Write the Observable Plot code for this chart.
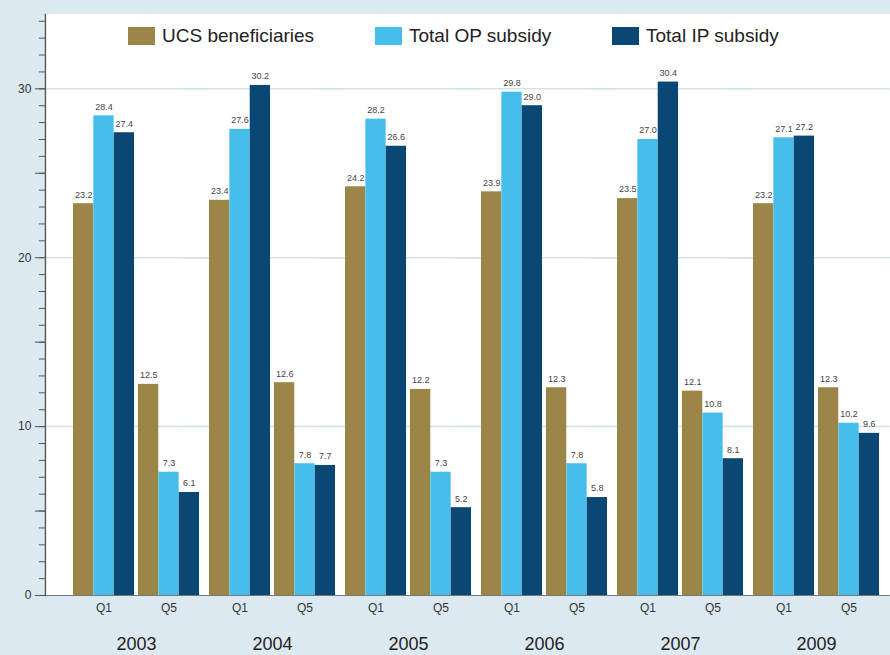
<!DOCTYPE html>
<html>
<head>
<meta charset="utf-8">
<script src="https://cdn.jsdelivr.net/npm/d3@7"></script>
<script src="https://cdn.jsdelivr.net/npm/@observablehq/plot@0.6"></script>
<style>
  html, body { margin: 0; padding: 0; background: #dde9f1; }
  #wrap { position: relative; width: 890px; height: 655px; font-family: "Liberation Sans", Arial, sans-serif; }
  #plotbg { position: absolute; left: 44px; top: 14px; width: 846px; height: 581px; background: #fff; z-index: 0; }
  #wrap svg { position: relative; z-index: 1; }
  .leg { position: absolute; top: 25px; display: flex; align-items: center; font-size: 19px; color: #222; z-index: 2; }
  .sw { width: 27px; height: 18px; margin-right: 7px; }
</style>
</head>
<body>
<div id="wrap"><div id="plotbg"></div></div>
<script>
const years = ["2003", "2004", "2005", "2006", "2007", "2009"];
const quintiles = ["Q1", "Q5"];
const seriesNames = ["UCS beneficiaries", "Total OP subsidy", "Total IP subsidy"];
const seriesColors = ["#9c8647", "#47bde9", "#0b4775"];
const ucsQ1 = [23.2, 23.4, 24.2, 23.9, 23.5, 23.2];
const opQ1  = [28.4, 27.6, 28.2, 29.8, 27.0, 27.1];
const ipQ1  = [27.4, 30.2, 26.6, 29.0, 30.4, 27.2];
const ucsQ5 = [12.5, 12.6, 12.2, 12.3, 12.1, 12.3];
const opQ5  = [7.3, 7.8, 7.3, 7.8, 10.8, 10.2];
const ipQ5  = [6.1, 7.7, 5.2, 5.8, 8.1, 9.6];
const yTicks = [0, 10, 20, 30];

const seriesQ1 = [ucsQ1, opQ1, ipQ1];
const seriesQ5 = [ucsQ5, opQ5, ipQ5];
const rows = [];
years.forEach((yr, i) => {
  seriesNames.forEach((s, k) => {
    rows.push({year: yr, q: "Q1", series: s, k, value: seriesQ1[k][i]});
    rows.push({year: yr, q: "Q5", series: s, k, value: seriesQ5[k][i]});
  });
});

const W = 890, H = 655, mL = 44, mR = 0, mT = 14, mB = 60;
const fxPadInner = 10 / 136, fxPadOuter = 0.1434, fxAlign = 0.72;
const fxScale = d3.scaleBand(years, [mL, W - mR]).paddingInner(fxPadInner).paddingOuter(fxPadOuter).align(fxAlign);
const xPadInner = 4 / 65;
const xScale = d3.scaleBand(quintiles, [0, fxScale.bandwidth()]).paddingInner(xPadInner).paddingOuter(0);
const bw = xScale.bandwidth();
const third = bw / 3;
const leftGap = fxScale(years[0]) - mL;
const rightGap = W - mR - (fxScale(years[years.length - 1]) + fxScale.bandwidth());
const ext = fxScale.step() - fxScale.bandwidth();
const extL = Math.max(leftGap, ext), extR = Math.max(rightGap, ext);

const marks = [
  Plot.gridY({ticks: [10, 20, 30], stroke: "#d3e3ec", strokeOpacity: 1, strokeWidth: 1.5,
              insetLeft: -extL, insetRight: -extR}),
];
seriesNames.forEach((s, k) => {
  const d = rows.filter(r => r.k === k);
  marks.push(Plot.barY(d, {
    fx: "year", x: "q", y: "value", fill: seriesColors[k],
    insetLeft: k * third, insetRight: (2 - k) * third
  }));
  marks.push(Plot.text(d, {
    fx: "year", x: "q", y: "value", text: r => r.value.toFixed(1),
    dx: (k - 1) * third, dy: -9, fontSize: 9, fill: "#444"
  }));
});
marks.push(
  Plot.ruleY([0], {stroke: "#777", strokeWidth: 1.2, insetLeft: -extL, insetRight: -extR}),
  Plot.frame({anchor: "left", facetAnchor: "left", dx: -leftGap, stroke: "#555", strokeWidth: 1.5}),
  Plot.axisY({ticks: d3.range(0, 35, 1), tickSize: 6, text: null, stroke: "#555", label: null, dx: -leftGap}),
  Plot.axisY({ticks: [5, 15, 25], tickSize: 10, text: null, stroke: "#555", label: null, dx: -leftGap}),
  Plot.axisY({ticks: yTicks, tickSize: 10, tickPadding: 4, stroke: "#555", fontSize: 12, fill: "#333", label: null, tickFormat: d => d, dx: -leftGap}),
  Plot.axisX({tickSize: 0, tickPadding: 8, fontSize: 12, fill: "#333", label: null}),
  Plot.axisFx({anchor: "bottom", tickSize: 0, tickPadding: 42, fontSize: 18, fill: "#222", label: null})
);

const chart = Plot.plot({
  width: W, height: H,
  marginLeft: mL, marginRight: mR, marginTop: mT, marginBottom: mB,
  style: {background: "transparent", fontFamily: "'Liberation Sans', Arial, sans-serif"},
  fx: {domain: years, paddingInner: fxPadInner, paddingOuter: fxPadOuter, align: fxAlign, label: null},
  x: {domain: quintiles, paddingInner: xPadInner, paddingOuter: 0, label: null},
  y: {domain: [0, 34.4], label: null},
  marks
});

const wrap = document.getElementById("wrap");
wrap.appendChild(chart);
const legendX = [128, 375, 612];
seriesNames.forEach((s, k) => {
  const item = document.createElement("div");
  item.className = "leg";
  item.style.left = legendX[k] + "px";
  item.innerHTML = `<div class="sw" style="background:${seriesColors[k]}"></div><span>${s}</span>`;
  wrap.appendChild(item);
});
</script>
</body>
</html>
